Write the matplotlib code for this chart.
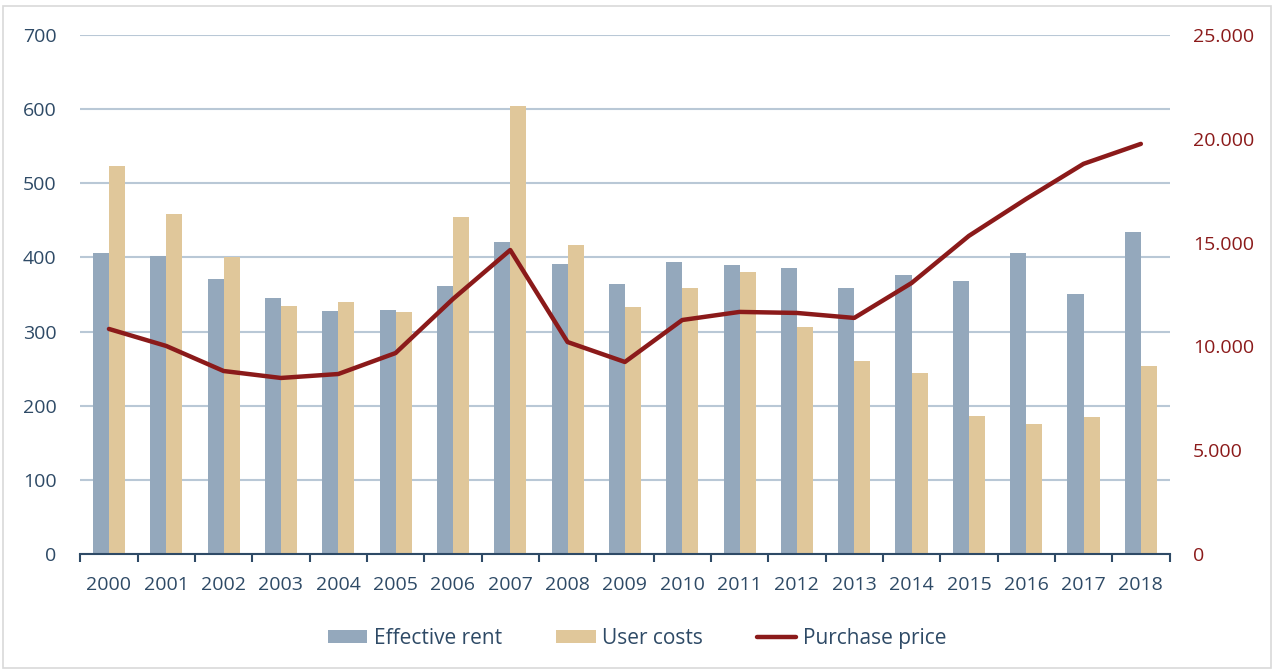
import matplotlib.pyplot as plt
import numpy as np
from matplotlib.patches import Rectangle

years = [str(y) for y in range(2000, 2019)]
effective_rent = [406, 402, 371, 345, 328, 329, 361, 421, 391, 364,
                  394, 390, 386, 359, 376, 368, 406, 351, 434]
user_costs = [523, 459, 401, 335, 340, 326, 455, 604, 417, 333,
              359, 380, 306, 260, 244, 186, 175, 185, 254]
purchase_price = [10840, 10020, 8815, 8480, 8670, 9680, 12280, 14640, 10210, 9250,
                  11270, 11660, 11610, 11370, 13050, 15320, 17100, 18790, 19750]

c_rent = '#94a8bc'
c_user = '#e0c79a'
c_price = '#8b1a1a'
c_text = '#2e4a66'
c_grid = '#b9c8d6'

plt.rcParams['font.family'] = ['Open Sans', 'DejaVu Sans']

fig = plt.figure(figsize=(12.74, 6.70), dpi=100)
ax = fig.add_axes([0.063, 0.173, 0.855, 0.775])
ax2 = ax.twinx()

x = np.arange(len(years))
w = 0.28
ax.bar(x - w / 2, effective_rent, w, color=c_rent, label='Effective rent', zorder=2)
ax.bar(x + w / 2, user_costs, w, color=c_user, label='User costs', zorder=2)
ax2.plot(x, purchase_price, color=c_price, lw=3.2, label='Purchase price',
         solid_capstyle='round', zorder=3)

ax.set_xlim(-0.5, len(years) - 0.5)
ax.set_ylim(0, 700)
ax.set_yticks(range(0, 701, 100))
ax2.set_ylim(0, 25000)
ax2.set_yticks(range(0, 25001, 5000))
ax2.set_yticklabels(['0' if v == 0 else f'{v // 1000}.000' for v in range(0, 25001, 5000)])

ax.yaxis.grid(True, color=c_grid, lw=1.5, zorder=0)
ax.set_axisbelow(True)

for a in (ax, ax2):
    for s in ('top', 'left', 'right'):
        a.spines[s].set_visible(False)
ax2.spines['bottom'].set_visible(False)
ax.spines['bottom'].set_color(c_text)
ax.spines['bottom'].set_linewidth(1.5)

ax.set_xticks(x)
ax.set_xticklabels(years)
ax.set_xticks(np.arange(-0.5, len(years)), minor=True)
ax.tick_params(axis='x', which='major', length=0, pad=16, labelsize=14, labelcolor=c_text)
ax.tick_params(axis='x', which='minor', length=6, width=1.5, color=c_text)
ax.tick_params(axis='y', length=0, pad=17, labelsize=14, labelcolor=c_text)
ax2.tick_params(axis='y', length=0, pad=17, labelsize=14, labelcolor=c_price)

h1, l1 = ax.get_legend_handles_labels()
h2, l2 = ax2.get_legend_handles_labels()
fig.legend(h1 + h2, l1 + l2, loc='center', bbox_to_anchor=(0.5, 0.047), ncol=3,
           frameon=False, fontsize=15, labelcolor=c_text, handlelength=1.9,
           handleheight=0.6, columnspacing=2.6, handletextpad=0.3)

fig.patches.append(Rectangle((0.002, 0.003), 0.996, 0.988, transform=fig.transFigure,
                             fill=False, edgecolor='#d9d9d9', lw=1.2))

fig.savefig('out.png', dpi=100)
